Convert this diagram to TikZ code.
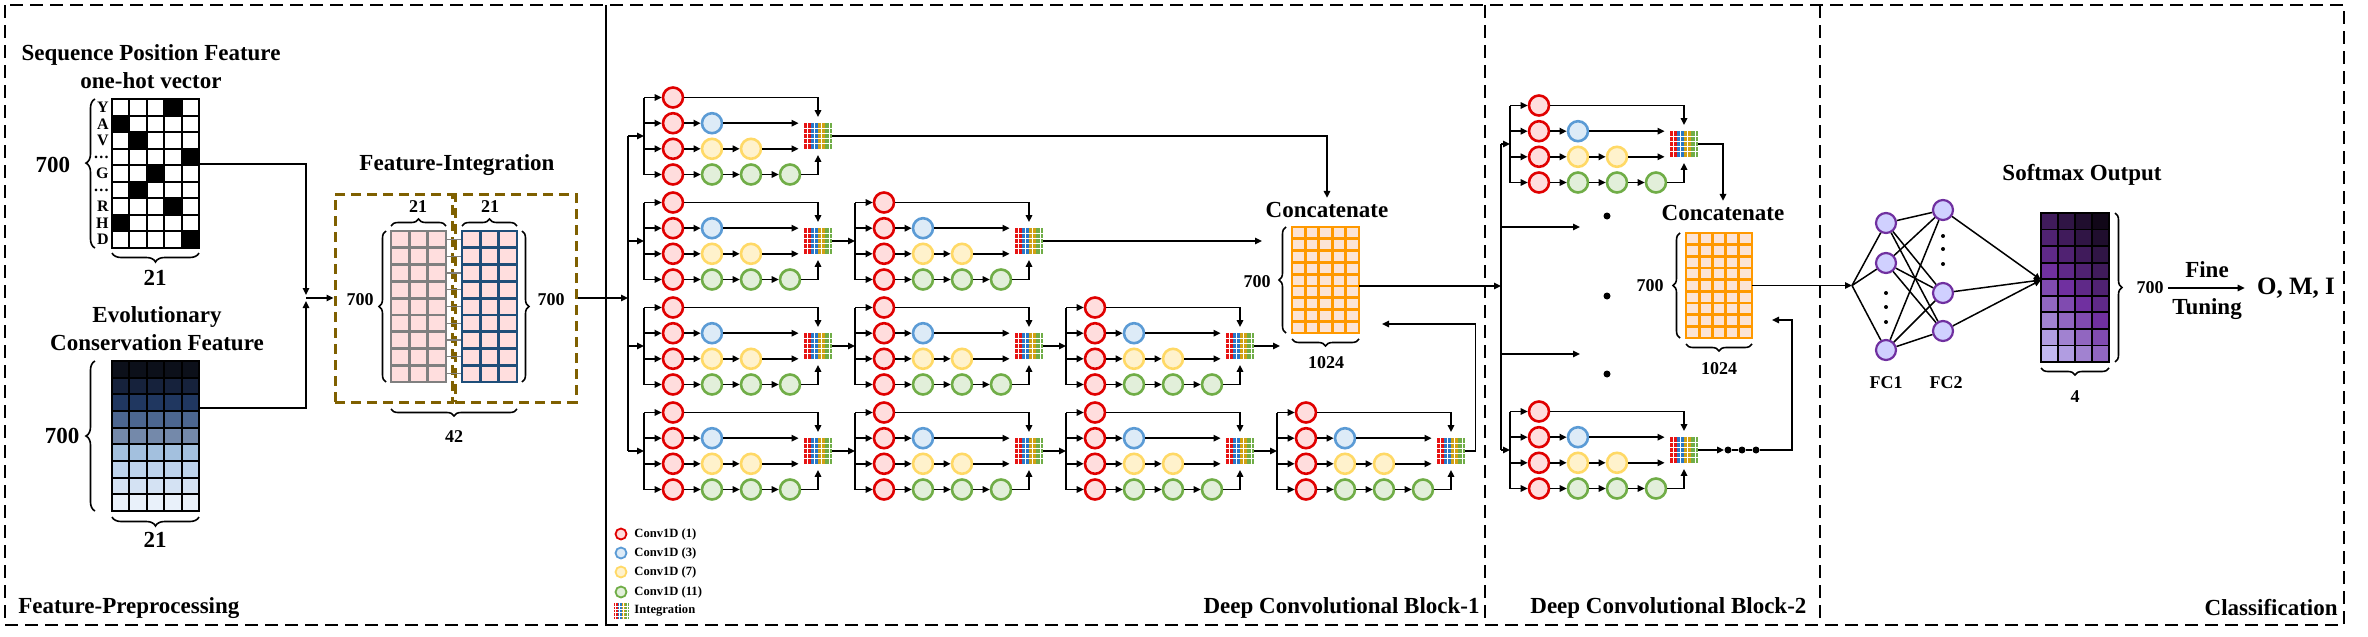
\documentclass[tikz,border=0pt]{standalone}
\usepackage{fontspec}
\setmainfont{Liberation Serif}
\usetikzlibrary{arrows.meta,calc,decorations.pathreplacing}
\definecolor{rdD}{RGB}{224,0,0}\definecolor{rdF}{RGB}{255,221,221}
\definecolor{blD}{RGB}{91,155,213}\definecolor{blF}{RGB}{221,235,247}
\definecolor{ylD}{RGB}{255,217,102}\definecolor{ylF}{RGB}{255,242,204}
\definecolor{gnD}{RGB}{112,173,71}\definecolor{gnF}{RGB}{226,239,218}
\definecolor{brn}{RGB}{127,96,0}
\definecolor{navy}{RGB}{31,78,121}
\definecolor{orng}{RGB}{255,153,0}\definecolor{peach}{RGB}{252,228,214}
\definecolor{pinkF}{RGB}{255,222,222}
\definecolor{purD}{RGB}{112,48,160}\definecolor{purF}{RGB}{208,208,255}
\definecolor{ir}{RGB}{230,20,20}\definecolor{ib}{RGB}{40,120,200}
\definecolor{iy}{RGB}{210,160,20}\definecolor{ig}{RGB}{112,173,71}
\definecolor{ev0}{RGB}{12,16,26}\definecolor{ev1}{RGB}{22,34,60}
\definecolor{ev2}{RGB}{32,55,96}\definecolor{ev3}{RGB}{76,102,144}
\definecolor{ev4}{RGB}{116,137,170}\definecolor{ev5}{RGB}{163,192,222}
\definecolor{ev6}{RGB}{190,212,236}\definecolor{ev7}{RGB}{212,226,243}
\definecolor{ev8}{RGB}{233,241,250}
\newcommand{\rdots}{.\kern0.6pt.\kern0.6pt.}
\tikzset{
 hd/.style={font=\fontsize{11.5}{14}\selectfont\bfseries, inner sep=0pt},
 num/.style={font=\fontsize{9}{10}\selectfont\bfseries, inner sep=0pt},
 bnum/.style={font=\fontsize{11.5}{13}\selectfont\bfseries, inner sep=0pt},
 rowlab/.style={font=\fontsize{8}{8}\selectfont\bfseries, inner sep=0pt, anchor=east},
 leg/.style={font=\fontsize{6.3}{7}\selectfont\bfseries, inner sep=0pt, anchor=west},
 arr/.style={-{Triangle[length=3.5pt,width=3.2pt]}, line width=0.9pt},
 ln/.style={line width=0.9pt},
 cv/.style={circle, minimum size=10pt, inner sep=0pt, line width=1.3pt},
 cvR/.style={cv, draw=rdD, fill=rdF},
 cvB/.style={cv, draw=blD, fill=blF},
 cvY/.style={cv, draw=ylD, fill=ylF},
 cvG/.style={cv, draw=gnD, fill=gnF},
 brc/.style={decorate, decoration={brace, amplitude=3.5pt}, line width=0.8pt},
 bbrc/.style={decorate, decoration={brace, amplitude=4.5pt}, line width=0.8pt},
 bdot/.style={circle, fill=black, minimum size=3.5pt, inner sep=0pt},
 sdot/.style={circle, fill=black, minimum size=2pt, inner sep=0pt},
 fc/.style={circle, draw=purD, fill=purF, minimum size=10pt, inner sep=0pt, line width=1.1pt},
 integ/.style={minimum width=14pt, minimum height=12.5pt, inner sep=0pt},
 fibx/.style={draw=brn, line width=1.5pt, dash pattern=on 5pt off 3pt, minimum height=104pt, inner sep=0pt},
 bord/.style={line width=1pt, dash pattern=on 6.5pt off 3.5pt},
 gbox/.style={inner sep=0pt},
}
\newcommand{\bandsof}[1]{%
 \foreach \cc [count=\ii from 0] in {ir,ib,iy,ig}{%
  \fill[fill=\cc] ($(#1.north west)!\ii/4!(#1.north east)$) rectangle ($(#1.south west)!{(\ii+1)/4}!(#1.south east)$);}%
 \foreach \ff in {0.125,0.375,0.625,0.875}{\draw[white,line width=0.3pt] ($(#1.north west)!\ff!(#1.north east)$) -- ($(#1.south west)!\ff!(#1.south east)$);}%
 \foreach \ff in {0.2,0.4,0.6,0.8}{\draw[white,line width=0.3pt] ($(#1.north west)!\ff!(#1.south west)$) -- ($(#1.north east)!\ff!(#1.south east)$);}%
}
\newcommand{\cellgrid}[7]{%
 \foreach \r in {0,...,#4}{\foreach \c in {0,...,#3}{\draw[#7] ({#1+\c*#5},{#2+\r*#6}) rectangle ++(#5,#6);}}}
\newcommand{\incep}[3]{%
 \begin{scope}[shift={(#2,#3)}]
  \coordinate (#1-in) at (-29,0);
  \coordinate (#1-t) at (-29,-38.5);
  \coordinate (#1-u) at (-29,-12.8);
  \coordinate (#1-v) at (-29,12.8);
  \coordinate (#1-w) at (-29,38.5);
  \node[cvR] (#1-a1) at (0,-38.5) {};
  \node[cvR] (#1-b1) at (0,-12.8) {};
  \node[cvB] (#1-b2) at (39,-12.8) {};
  \node[cvR] (#1-c1) at (0,12.8) {};
  \node[cvY] (#1-c2) at (39,12.8) {};
  \node[cvY] (#1-c3) at (78,12.8) {};
  \node[cvR] (#1-d1) at (0,38.5) {};
  \node[cvG] (#1-d2) at (39,38.5) {};
  \node[cvG] (#1-d3) at (78,38.5) {};
  \node[cvG] (#1-d4) at (117,38.5) {};
  \node[integ] (#1-m) at (145,0) {};
 \end{scope}
 \bandsof{#1-m}
 \draw[ln] (#1-t) -- (#1-w);
 \draw[arr] (#1-t) -- (#1-a1);
 \draw[arr] (#1-u) -- (#1-b1);
 \draw[arr] (#1-v) -- (#1-c1);
 \draw[arr] (#1-w) -- (#1-d1);
 \draw[arr] (#1-b1) -- (#1-b2);
 \draw[arr] (#1-c1) -- (#1-c2);
 \draw[arr] (#1-c2) -- (#1-c3);
 \draw[arr] (#1-d1) -- (#1-d2);
 \draw[arr] (#1-d2) -- (#1-d3);
 \draw[arr] (#1-d3) -- (#1-d4);
 \draw[arr, shorten >=3pt] (#1-a1) -| (#1-m.north);
 \draw[arr, shorten >=2.5pt] (#1-b2) -- (#1-b2 -| #1-m.west);
 \draw[arr, shorten >=2.5pt] (#1-c3) -- (#1-c3 -| #1-m.west);
 \draw[arr, shorten >=3pt] (#1-d4) -| (#1-m.south);
}
\begin{document}
\begin{tikzpicture}[x=0.5pt,y=-0.5pt]
\useasboundingbox (0,0) rectangle (2368,637);
% panels
\draw[bord] (5,5) rectangle (2344,625);
\draw[line width=1pt] (606,5) -- (606,625);
\draw[bord] (1485,5) -- (1485,625);
\draw[bord] (1820,5) -- (1820,625);
\node[hd, anchor=west] (lab1) at (18,608) {Feature-Preprocessing};
\node[hd, anchor=east] (lab2) at (1480,608) {Deep Convolutional Block-1};
\node[hd, anchor=west] (lab3) at (1530,608) {Deep Convolutional Block-2};
\node[hd, anchor=east] (lab4) at (2338,608) {Classification};

% ---------- Feature preprocessing
\node[hd, align=center] (t1) at (151,67) {Sequence Position Feature\\one-hot vector};
\node[gbox, minimum width=43.5pt, minimum height=74.5pt] (oh) at (155.5,173.5) {};
\foreach \r/\c in {0/3,1/0,2/1,3/4,4/2,5/1,6/3,7/0,8/4}{\fill ({112+\c*17.4},{99+\r*16.56}) rectangle ++(17.4,16.56);}
\cellgrid{112}{99}{4}{8}{17.4}{16.56}{line width=1pt}
\foreach \lab [count=\i from 0] in {Y,A,V,\rdots,G,\rdots,R,H,D}{\node[rowlab] (ohl\i) at (109,{99+(\i+0.5)*16.56}) {\lab};}
\draw[bbrc, decoration={aspect=0.57}] (95,248) -- (95,99);
\node[bnum] (oh700) at (53,165) {700};
\draw[bbrc] (199,253) -- (112,253);
\node[bnum] (oh21) at (155,278) {21};

\node[hd, align=center] (t2) at (157,329) {Evolutionary\\Conservation Feature};
\node[gbox, minimum width=43.5pt, minimum height=75pt] (ev) at (155.5,436) {};
\foreach \r in {0,...,8}{\fill[fill=ev\r] (112,{361+\r*16.67}) rectangle ++(87,16.67);}
\cellgrid{112}{361}{4}{8}{17.4}{16.67}{line width=1pt}
\draw[bbrc] (95,511) -- (95,361);
\node[bnum] (ev700) at (62,436) {700};
\draw[bbrc] (199,517) -- (112,517);
\node[bnum] (ev21) at (155,540) {21};

\coordinate (ohout) at (199,164);
\coordinate (evout) at (199,408);
\coordinate (merge) at (306,298);
\coordinate (mtop) at (306,295);
\coordinate (mbot) at (306,301);
\draw[arr] (ohout) -| (mtop);
\draw[arr] (evout) -| (mbot);

% ---------- Feature integration
\node[hd] (t3) at (457,165) {Feature-Integration};
\node[fibx, minimum width=58.5pt] (fil) at (393.5,298) {};
\node[fibx, minimum width=60.5pt] (fir) at (515.5,298) {};
\draw[arr] (merge) -- (fil.west);
\fill[pinkF] (391,231) rectangle (446,382);
\cellgrid{391}{231}{2}{8}{18.33}{16.78}{draw=gray, line width=1.4pt}
\fill[pinkF] (462,231) rectangle (517,382);
\cellgrid{462}{231}{2}{8}{18.33}{16.78}{draw=navy, line width=1.4pt}
\foreach \r in {0,...,8}{\draw[gray, line width=0.6pt] (447,{231+(\r+0.5)*16.78}) -- (461,{231+(\r+0.5)*16.78});}
\draw[brc] (391,226) -- (446,226);
\draw[brc] (462,226) -- (517,226);
\node[num] (fi21a) at (418,207) {21};
\node[num] (fi21b) at (490,207) {21};
\draw[brc] (386,382) -- (386,231);
\node[num] (fi700a) at (360,300) {700};
\draw[brc] (522,231) -- (522,382);
\node[num] (fi700b) at (551,300) {700};
\draw[brc] (517,409) -- (391,409);
\node[num] (fi42) at (454,437) {42};

% ---------- Deep conv block 1
\coordinate (b1top) at (628,136);
\coordinate (b1bot) at (628,451);
\coordinate (b1in) at (628,298);
\draw[arr] (fir.east) -- (b1in);
\draw[ln] (b1top) -- (b1bot);
\foreach \b in {0,...,3}{%
 \pgfmathsetmacro\yy{136+105*\b}
 \foreach \k in {0,...,\b}{%
  \pgfmathsetmacro\xx{673+211*\k}
  \incep{M\b\k}{\xx}{\yy}
 }
 \coordinate (bb\b) at (628,\yy);
 \draw[arr] (bb\b) -- (M\b0-in);
}
\foreach \b in {1,2,3}{%
 \pgfmathtruncatemacro\bm{\b-1}
 \foreach \k in {0,...,\bm}{%
  \pgfmathtruncatemacro\kk{\k+1}
  \draw[arr] (M\b\k-m.east) -- (M\b\kk-in);
 }
}
% concatenate 1
\node[hd] (cat1t) at (1327,210) {Concatenate};
\node[gbox, minimum width=33.5pt, minimum height=53pt] (cat1) at (1325.5,280) {};
\fill[peach] (1292,227) rectangle (1359,333);
\cellgrid{1292}{227}{4}{8}{13.4}{11.78}{draw=orng, line width=1.4pt}
\draw[brc] (1286,333) -- (1286,227);
\node[num] (c1700) at (1257,282) {700};
\draw[brc] (1359,339) -- (1292,339);
\node[num] (c11024) at (1326,363) {1024};
\coordinate (c1in2) at (1262,241);
\coordinate (c1in3) at (1280,346);
\coordinate (c1in4) at (1382,324);
\draw[arr, shorten >=2pt] (M00-m.east) -| (cat1t.north);
\draw[arr] (M11-m.east) -- (c1in2);
\draw[arr] (M22-m.east) -- (c1in3);
\draw[arr] (M33-m.east) -- ++(10,0) |- (c1in4);

% legend
\node[cvR, minimum size=5.5pt, line width=0.9pt] (lg1) at (621,534) {};
\node[cvB, minimum size=5.5pt, line width=0.9pt] (lg2) at (621,553) {};
\node[cvY, minimum size=5.5pt, line width=0.9pt] (lg3) at (621,572) {};
\node[cvG, minimum size=5.5pt, line width=0.9pt] (lg4) at (621,592) {};
\node[integ, minimum width=7.5pt, minimum height=8pt] (lg5) at (621.5,611) {};
\bandsof{lg5}
\node[leg] (lgt1) at (634,534) {Conv1D (1)};
\node[leg] (lgt2) at (634,553) {Conv1D (3)};
\node[leg] (lgt3) at (634,572) {Conv1D (7)};
\node[leg] (lgt4) at (634,592) {Conv1D (11)};
\node[leg] (lgt5) at (634,611) {Integration};

% ---------- Deep conv block 2
\coordinate (b2top) at (1501,144);
\coordinate (b2bot) at (1501,450);
\coordinate (b2in) at (1501,286);
\coordinate (b2m1) at (1501,227);
\coordinate (b2m1e) at (1580,227);
\coordinate (b2m2) at (1501,354);
\coordinate (b2m2e) at (1580,354);
\draw[arr] (cat1.east |- b2in) -- (b2in);
\draw[ln] (b2top) -- (b2bot);
\incep{T}{1539}{144}
\incep{B}{1539}{450}
\draw[arr] (b2top) -- (T-in);
\draw[arr] (b2bot) -- (B-in);
\draw[arr] (b2m1) -- (b2m1e);
\draw[arr] (b2m2) -- (b2m2e);
\node[bdot] (vd1) at (1607,216) {};
\node[bdot] (vd2) at (1607,296) {};
\node[bdot] (vd3) at (1607,374) {};
\node[hd] (cat2t) at (1723,213) {Concatenate};
\node[gbox, minimum width=33pt, minimum height=52.5pt] (cat2) at (1719,285.5) {};
\fill[peach] (1686,233) rectangle (1752,338);
\cellgrid{1686}{233}{4}{8}{13.2}{11.67}{draw=orng, line width=1.4pt}
\draw[brc] (1680,338) -- (1680,233);
\node[num] (c2700) at (1650,286) {700};
\draw[brc] (1752,344) -- (1686,344);
\node[num] (c21024) at (1719,369) {1024};
\draw[arr, shorten >=2pt] (T-m.east) -| (cat2t.north);
\node[bdot] (bd1) at (1728,450) {};
\node[bdot] (bd2) at (1742,450) {};
\node[bdot] (bd3) at (1756,450) {};
\coordinate (c2in) at (1772,320);
\draw[arr] (B-m.east) -- (bd1);
\draw[ln] (bd1) -- (bd2);
\draw[ln] (bd2) -- (bd3);
\draw[arr] (bd3) -- ++(36,0) |- (c2in);

% ---------- Classification
\coordinate (fcin) at (1852,285.5);
\draw[arr] (cat2.east) -- (fcin);
\node[fc] (f1a) at (1886,223) {};
\node[fc] (f1b) at (1886,263) {};
\node[fc] (f1c) at (1886,350) {};
\node[sdot] (f1d1) at (1886,293) {};
\node[sdot] (f1d2) at (1886,307) {};
\node[sdot] (f1d3) at (1886,322) {};
\node[fc] (f2a) at (1943,210) {};
\node[fc] (f2b) at (1943,293) {};
\node[fc] (f2c) at (1943,331) {};
\node[sdot] (f2d1) at (1943,236) {};
\node[sdot] (f2d2) at (1943,249) {};
\node[sdot] (f2d3) at (1943,264) {};
\foreach \p in {f1a,f1b,f1c}{\draw[line width=0.75pt] (fcin) -- (\p);}
\foreach \p in {f1a,f1b,f1c}{\foreach \q in {f2a,f2b,f2c}{\draw[line width=0.75pt] (\p) -- (\q);}}
\coordinate (smin) at (2041,280);
\foreach \q in {f2a,f2b,f2c}{\draw[arr, line width=0.75pt] (\q) -- (smin);}
\node[num] (fc1l) at (1886,383) {FC1};
\node[num] (fc2l) at (1946,383) {FC2};
\node[hd] (t5) at (2082,175) {Softmax Output};
\node[gbox, minimum width=34pt, minimum height=74.5pt] (soft) at (2075,287.5) {};
\foreach \r in {0,...,8}{\foreach \c in {0,...,3}{%
 \pgfmathtruncatemacro\dd{\r-\c}%
 \ifnum\dd<3 \pgfmathtruncatemacro\pp{15+(\dd+3)*14}\def\cl{purD!\pp!black}%
 \else \pgfmathtruncatemacro\pp{(\dd-3)*17}\def\cl{purF!\pp!purD}\fi
 \fill[fill=\cl] ({2041+\c*17},{213+\r*16.56}) rectangle ++(17,16.56);}}
\cellgrid{2041}{213}{3}{8}{17}{16.56}{line width=0.9pt}
\draw[brc] (2115,213) -- (2115,362);
\node[num] (sm700) at (2150,288) {700};
\draw[brc] (2109,368) -- (2041,368);
\node[num] (sm4) at (2075,397) {4};
\node[bnum, font=\fontsize{12.5}{14}\selectfont\bfseries] (omi) at (2296,288) {O, M, I};
\draw[arr, shorten >=6pt, shorten <=2pt] (sm700.east) -- (omi.west);
\node[bnum] (fine) at (2207,270) {Fine};
\node[bnum] (tun) at (2207,309) {Tuning};
\end{tikzpicture}
\end{document}
